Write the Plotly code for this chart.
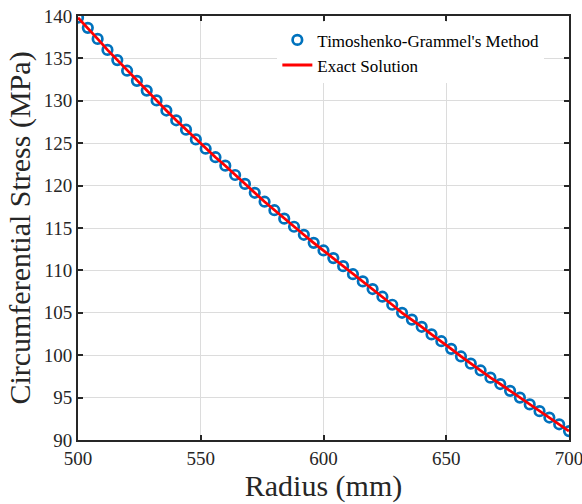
import plotly.graph_objects as go

radius_mm = [500, 504, 508, 512, 516, 520, 524, 528, 532, 536, 540, 544, 548, 552, 556, 560,
             564, 568, 572, 576, 580, 584, 588, 592, 596, 600, 604, 608, 612, 616, 620, 624,
             628, 632, 636, 640, 644, 648, 652, 656, 660, 664, 668, 672, 676, 680, 684, 688,
             692, 696, 700]
stress_tg = [139.8, 138.6, 137.3, 136.0, 134.8, 133.55, 132.35, 131.2, 130.05, 128.85, 127.7,
             126.6, 125.45, 124.35, 123.35, 122.35, 121.25, 120.2, 119.15, 118.1, 117.1, 116.1,
             115.15, 114.2, 113.25, 112.35, 111.45, 110.5, 109.55, 108.7, 107.8, 106.9, 105.95,
             105.0, 104.2, 103.35, 102.45, 101.65, 100.75, 99.85, 99.0, 98.2, 97.35, 96.6, 95.8,
             95.0, 94.2, 93.4, 92.65, 91.85, 91.05]
stress_exact = stress_tg

x_ticks = [500, 550, 600, 650, 700]
y_ticks = [90, 95, 100, 105, 110, 115, 120, 125, 130, 135, 140]

FONT = "Liberation Serif, Times New Roman, serif"
AX = "#262626"
GRID = "#dcdcdc"

fig = go.Figure()
fig.add_trace(go.Scatter(
    x=radius_mm, y=stress_tg, mode="markers", name="Timoshenko-Grammel's Method",
    marker=dict(symbol="circle-open", size=9.5, color="#0072BD", line=dict(width=2.7, color="#0072BD")),
))
fig.add_trace(go.Scatter(
    x=radius_mm, y=stress_exact, mode="lines", name="Exact Solution",
    line=dict(color="#FF0000", width=2.8),
))

axis_common = dict(
    showline=True, linecolor=AX, linewidth=2, mirror="ticks",
    ticks="inside", ticklen=5, tickwidth=2, tickcolor=AX,
    showgrid=True, gridcolor=GRID, gridwidth=1, zeroline=False,
    tickfont=dict(family=FONT, size=19, color=AX),
    ticklabeloverflow="allow",
    automargin=False,
)

fig.update_layout(
    width=582, height=504,
    margin=dict(l=78, r=13, t=16, b=64),
    paper_bgcolor="white", plot_bgcolor="white",
    font=dict(family=FONT, color=AX),
    xaxis=dict(range=[500, 700], tickvals=x_ticks, ticktext=[str(v) for v in x_ticks],
               title=dict(text="Radius (mm)", font=dict(family=FONT, size=30, color=AX), standoff=6),
               **axis_common),
    yaxis=dict(range=[90, 140], tickvals=y_ticks, ticktext=[str(v) for v in y_ticks],
               title=dict(text="Circumferential Stress (MPa)", font=dict(family=FONT, size=30, color=AX), standoff=4),
               **axis_common),
    legend=dict(x=0.406, y=0.985, xanchor="left", yanchor="top",
                bgcolor="white", borderwidth=0,
                font=dict(family=FONT, size=17, color="black"),
                itemwidth=30, tracegroupgap=0),
    showlegend=True,
)

fig.write_html("out.html",
               config={"displayModeBar": False},
               post_script="document.body.style.margin='0';document.body.style.padding='0';document.body.style.overflow='hidden';")
